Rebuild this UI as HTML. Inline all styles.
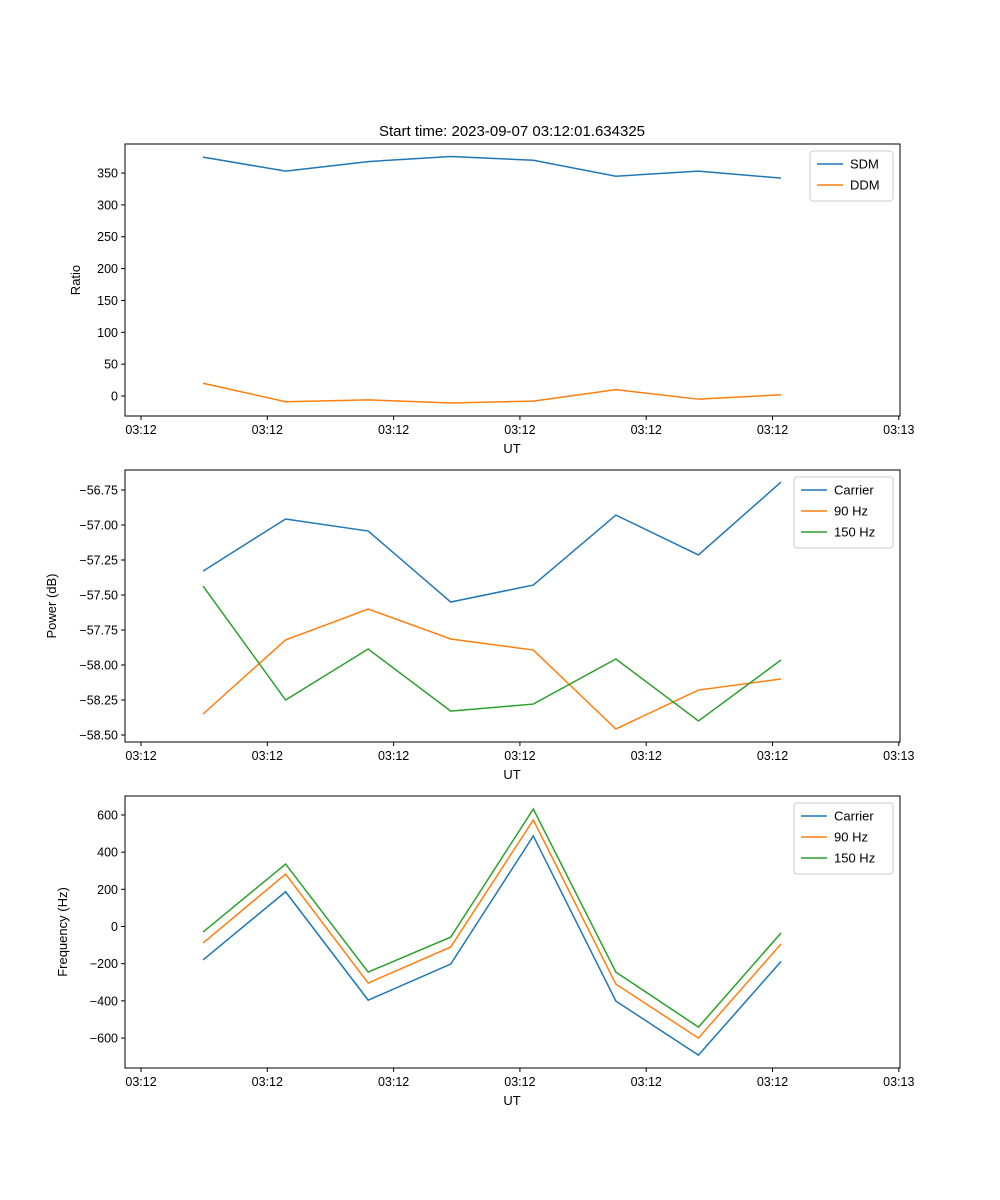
<!DOCTYPE html>
<html><head><meta charset="utf-8"><style>
body{margin:0;background:#fff}
svg{display:block;font-family:"Liberation Sans","DejaVu Sans",sans-serif}
</style></head><body>
<svg id="fig" width="1000" height="1200"></svg>
<script>
const categories=[0,1,2,3,4,5,6,7];
const tickLabels=["03:12","03:12","03:12","03:12","03:12","03:12","03:13"];
const sdm=[375,353,368,376,370,345,353,342];
const ddm=[20,-9,-6,-11,-8,10,-5,2];
const powCarrier=[-57.329,-56.957,-57.043,-57.55,-57.429,-56.929,-57.214,-56.693];
const pow90=[-58.35,-57.821,-57.6,-57.814,-57.893,-58.457,-58.179,-58.1];
const pow150=[-57.436,-58.25,-57.886,-58.329,-58.279,-57.957,-58.4,-57.964];
const freqCarrier=[-180,187,-396,-202,487,-401,-692,-188];
const freq90=[-89,282,-304,-110,573,-310,-600,-94];
const freq150=[-30,336,-245,-57,632,-245,-541,-35];
const ratioTicks=[0,50,100,150,200,250,300,350];
const powTicks=[-58.5,-58.25,-58,-57.75,-57.5,-57.25,-57,-56.75];
const freqTicks=[-600,-400,-200,0,200,400,600];

const NS="http://www.w3.org/2000/svg";
const svg=document.getElementById('fig');
function el(t,a,p){const e=document.createElementNS(NS,t);for(const k in a)e.setAttribute(k,a[k]);(p||svg).appendChild(e);return e;}
const X0=125,X1=900,xmin=-0.945,xmax=8.441;
const xs=v=>X0+(v-xmin)/(xmax-xmin)*(X1-X0);
const xTickVals=[0,1,2,3,4,5,6].map(j=>-0.751+1.5296*j);
const C={b:'#1f77b4',o:'#ff7f0e',g:'#2ca02c'};

function panel(name,top,ymin,ymax,yticks,fmt,ylabel,ylx,series,legW){
  const bot=top+272;
  const ys=v=>bot-(v-ymin)/(ymax-ymin)*272;
  const g=el('g',{});
  
  
  el('rect',{x:X0,y:top,width:X1-X0,height:272,fill:'#fff',stroke:'#000','stroke-width':1},g);
  xTickVals.forEach((v,i)=>{const x=xs(v);
    el('line',{x1:x,x2:x,y1:bot,y2:bot+4,stroke:'#000'},g);
    const t=el('text',{x:x,y:bot+18,'font-size':12.5,'text-anchor':'middle'},g);t.textContent=tickLabels[i];
    
    });
  yticks.forEach(v=>{const y=ys(v);
    el('line',{x1:X0-4,x2:X0,y1:y,y2:y,stroke:'#000'},g);
    const t=el('text',{x:X0-7,y:y+4.5,'font-size':12.5,'text-anchor':'end'},g);t.textContent=fmt(v);
    
    });
  const xl=el('text',{x:512,y:bot+37,'font-size':13,'text-anchor':'middle'},g);xl.textContent='UT';
  
  
  const cy=top+136;
  const yl=el('text',{x:ylx,y:cy,'font-size':13,'text-anchor':'middle',transform:`rotate(-90 ${ylx} ${cy})`},g);yl.textContent=ylabel;
  
  
  series.forEach(s=>{
    const p=el('polyline',{points:s.d.map((v,i)=>xs(categories[i])+','+ys(v)).join(' '),fill:'none',stroke:s.c,'stroke-width':1.5},g);
    
    
  });
  const lx=X1-7-legW,ly=top+7,lh=8+series.length*21;
  const lg=el('g',{},g);
  
  
  el('rect',{x:lx,y:ly,width:legW,height:lh,rx:3,fill:'#fff',stroke:'#ccc'},lg);
  series.forEach((s,i)=>{const y=ly+13+i*21;
    el('line',{x1:lx+7,x2:lx+33,y1:y,y2:y,stroke:s.c,'stroke-width':1.5},lg);
    const t=el('text',{x:lx+40,y:y+4.5,'font-size':13},lg);t.textContent=s.n;
    
    });
}
const title=el('text',{x:512,y:136,'font-size':15,'text-anchor':'middle'});
title.textContent='Start time: 2023-09-07 03:12:01.634325';


panel('ratio-panel',144,-31.4,395.6,ratioTicks,v=>String(v),'Ratio',80,
  [{n:'SDM',d:sdm,c:C.b},{n:'DDM',d:ddm,c:C.o}],83);
panel('power-panel',470,-58.55,-56.607,powTicks,v=>'\u2212'+Math.abs(v).toFixed(2),'Power (dB)',56,
  [{n:'Carrier',d:powCarrier,c:C.b},{n:'90 Hz',d:pow90,c:C.o},{n:'150 Hz',d:pow150,c:C.g}],99);
panel('frequency-panel',796,-761,702,freqTicks,v=>v<0?'\u2212'+Math.abs(v):String(v),'Frequency (Hz)',67,
  [{n:'Carrier',d:freqCarrier,c:C.b},{n:'90 Hz',d:freq90,c:C.o},{n:'150 Hz',d:freq150,c:C.g}],99);
</script>
</body></html>
